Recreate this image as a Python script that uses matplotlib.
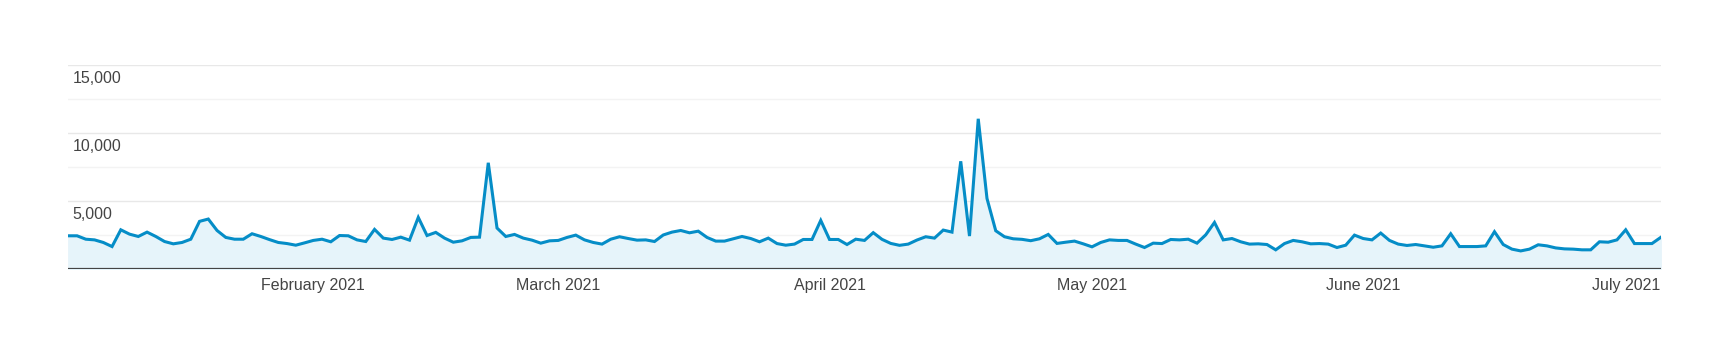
import matplotlib
matplotlib.use("Agg")
import matplotlib.pyplot as plt
import matplotlib.dates as mdates
import matplotlib.transforms as mtransforms
import pandas as pd

plt.rcParams['font.family'] = ['Liberation Sans', 'DejaVu Sans']

# daily values, 2021-01-04 .. 2021-07-05
start_date = "2021-01-04"
values = [
    2460, 2460, 2210, 2160, 1970, 1670, 2900, 2580, 2410, 2730,
    2410, 2040, 1870, 1970, 2210, 3520, 3690, 2850, 2340, 2210,
    2210, 2610, 2410, 2180, 1970, 1890, 1770, 1940, 2120, 2210,
    2020, 2480, 2460, 2160, 2040, 2930, 2290, 2190, 2360, 2140,
    3810, 2480, 2710, 2290, 1990, 2090, 2340, 2360, 7820, 3030,
    2410, 2560, 2290, 2140, 1920, 2090, 2120, 2340, 2510, 2160,
    1970, 1850, 2210, 2390, 2260, 2140, 2160, 2040, 2520, 2730,
    2850, 2680, 2800, 2340, 2070, 2070, 2240, 2410, 2260, 2020,
    2290, 1890, 1770, 1850, 2190, 2190, 3590, 2190, 2190, 1820,
    2210, 2120, 2690, 2200, 1900, 1760, 1850, 2150, 2390, 2290,
    2880, 2730, 7930, 2440, 11050, 5200, 2830, 2390, 2240, 2200,
    2100, 2240, 2560, 1900, 1990, 2070, 1870, 1650, 1970, 2160,
    2120, 2120, 1850, 1600, 1920, 1890, 2190, 2160, 2210, 1920,
    2530, 3440, 2160, 2260, 2020, 1850, 1870, 1820, 1430, 1890,
    2120, 2020, 1870, 1890, 1850, 1600, 1770, 2510, 2260, 2160,
    2660, 2120, 1850, 1750, 1820, 1720, 1620, 1720, 2610, 1670,
    1670, 1670, 1720, 2760, 1820, 1480, 1350, 1480, 1800, 1720,
    1570, 1500, 1480, 1430, 1430, 2020, 1990, 2160, 2900, 1890,
    1890, 1890, 2340,
]
days = pd.date_range(start_date, periods=len(values), freq="D")

month_ticks = ["2021-02-01", "2021-03-01", "2021-04-01", "2021-05-01", "2021-06-01", "2021-07-01"]
month_labels = ["February 2021", "March 2021", "April 2021", "May 2021", "June 2021", "July 2021"]
y_labels = [5000, 10000, 15000]
grid_levels = [2500, 5000, 7500, 10000, 12500, 15000]

fig = plt.figure(figsize=(17.3, 3.63), dpi=100)
ax = fig.add_axes([68.3 / 1730, 93.7 / 363, (1660.7 - 68.3) / 1730, (269.3 - 65) / 363])

line_color = "#058dc7"
ax.fill_between(days, values, 0, color="#e6f4fa", zorder=1)
ax.plot(days, values, color=line_color, lw=2.2, zorder=3, solid_joinstyle="miter")

ax.set_xlim(days[0], days[-1])
ax.set_ylim(0, 15000)

for g in grid_levels:
    c = "#e8e8e8" if g % 5000 == 0 else "#f3f3f3"
    ax.axhline(g, color=c, lw=1, zorder=0)

ax.axhline(0, color="#444444", lw=1.6, zorder=4)

for spine in ax.spines.values():
    spine.set_visible(False)

ax.set_yticks([])
for v in y_labels:
    ax.annotate(f"{v:,}", xy=(0, v), xycoords=("axes fraction", "data"),
                xytext=(4, -6), textcoords="offset pixels",
                ha="left", va="top", fontsize=11.5, color="#444444")

ax.set_xticks(pd.to_datetime(month_ticks))
ax.set_xticklabels(month_labels, fontsize=11.5, color="#444444")
ax.tick_params(axis="x", length=0, pad=6)

fig.savefig("out.png", dpi=100)
